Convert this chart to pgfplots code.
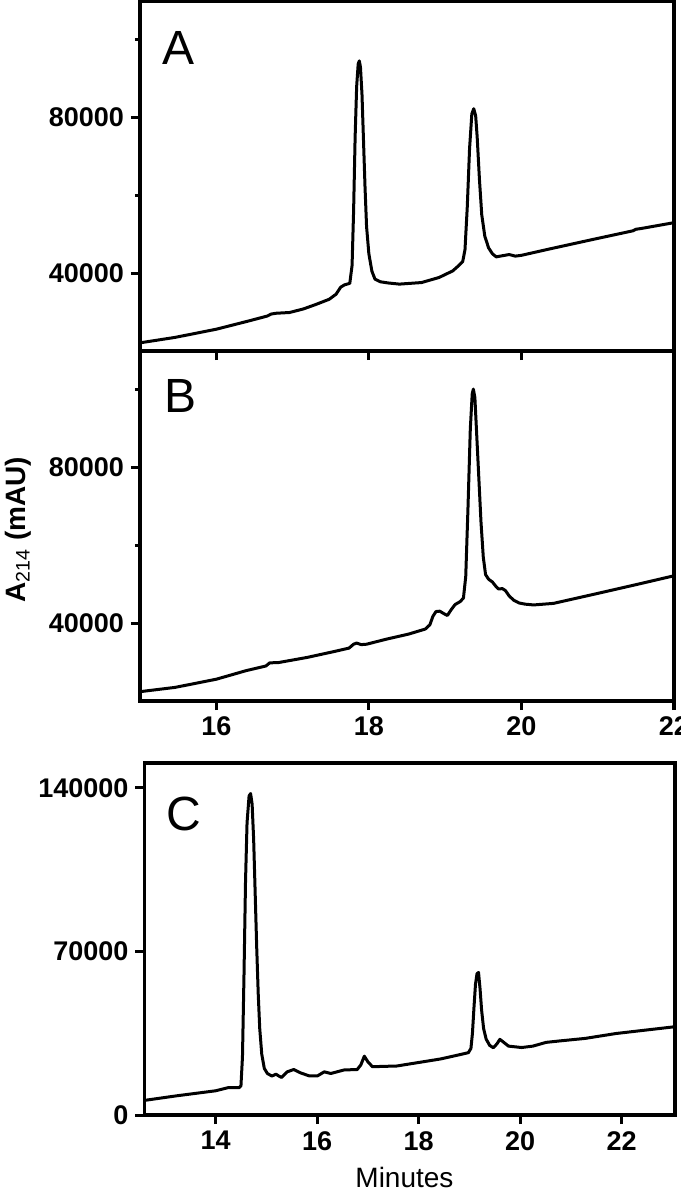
\documentclass[border=0pt]{standalone}
\usepackage{pgfplots}
\pgfplotsset{compat=1.18}
\usepackage{fontspec}
\setmainfont{Liberation Sans}

\pgfplotsset{
  chrom/.style={
    scale only axis, width=267pt, height=175pt,
    xmin=15, xmax=22, ymin=20000, ymax=110000,
    axis line style={line width=1.9pt},
    every tick/.style={black, line width=1.6pt},
    major tick length=4.5pt, minor tick length=2.5pt,
    tick align=outside, tick pos=left,
    xtick={16,18,20,22},
    ytick={40000,80000}, minor ytick={60000,100000},
    yticklabels={40000,80000},
    scaled ticks=false,
    tick label style={font=\fontsize{13.5}{14}\selectfont\bfseries},
    /pgf/number format/assume math mode=true,
    /pgf/number format/1000 sep={},
  },
}
\tikzset{
  trace/.style={black, line width=1.5pt, line join=round},
  panel/.style={anchor=north west, inner sep=0pt, font=\fontsize{24}{24}\selectfont},
}

\begin{document}
\begin{tikzpicture}
% panel A
\begin{axis}[chrom, at={(0pt,0pt)}, anchor=south west, xticklabels={}]
\addplot[trace, no marks] coordinates {
(15.00,22100) (15.46,23500) (16.00,25600) (16.44,27800) (16.67,29000) (16.72,29500)
(16.78,29700) (16.96,29900) (17.14,30800) (17.31,32000) (17.48,33300) (17.57,34600)
(17.63,36400) (17.68,37000) (17.75,37400) (17.78,42000) (17.80,56000) (17.82,75000)
(17.84,88000) (17.86,93800) (17.875,94600) (17.89,93000) (17.91,86000) (17.93,74000)
(17.95,62000) (17.97,52000) (18.00,45000) (18.04,40500) (18.08,38500) (18.15,37800)
(18.25,37500) (18.40,37200) (18.69,37600) (18.92,38900) (19.10,40600) (19.18,42000)
(19.23,43000) (19.26,46000) (19.29,57000) (19.32,72000) (19.35,81000) (19.375,82300)
(19.40,80500) (19.42,75000) (19.45,64000) (19.48,55000) (19.52,49500) (19.57,46500)
(19.62,45000) (19.67,44200) (19.75,44500) (19.84,44800) (19.92,44400) (20.00,44600)
(20.36,46200) (20.94,48700) (21.46,50900) (21.50,51300) (21.57,51500) (22.00,53000)
};
\node[panel, xshift=11pt, yshift=-15pt] at (rel axis cs:0,1) {A};
\end{axis}
% panel B
\begin{axis}[chrom, at={(0pt,0pt)}, anchor=north west,
  ylabel={A\textsubscript{\mdseries 214} (mAU)},
  ylabel style={font=\fontsize{14}{14}\selectfont\bfseries,
    at={(axis description cs:-0.2285,0.489)}, anchor=center}]
\addplot[trace, no marks] coordinates {
(15.00,22400) (15.46,23500) (16.00,25600) (16.39,27800) (16.65,29000) (16.70,29800)
(16.82,29900) (17.19,31200) (17.54,32700) (17.74,33600) (17.80,34600) (17.84,34900)
(17.90,34500) (17.97,34600) (18.23,35900) (18.52,37200) (18.74,38500) (18.80,39600)
(18.84,41800) (18.88,43000) (18.93,43100) (18.98,42500) (19.03,42000) (19.08,43500)
(19.13,44800) (19.20,45600) (19.24,46500) (19.27,52000) (19.30,70000) (19.33,90000)
(19.355,99000) (19.37,100200) (19.39,98000) (19.41,90000) (19.44,78000) (19.47,66000)
(19.50,57000) (19.53,52500) (19.57,51300) (19.62,50600) (19.66,49600) (19.70,48800)
(19.75,48900) (19.79,48400) (19.84,47000) (19.90,45900) (19.97,45200) (20.05,44900)
(20.16,44700) (20.42,45100) (20.94,47400) (21.52,50000) (22.00,52200)
};
\node[panel, xshift=12pt, yshift=-14pt] at (rel axis cs:0,1) {B};
\end{axis}
% panel C
\begin{axis}[chrom, at={(2.25pt,-205.85pt)}, anchor=north west,
  width=265.25pt, height=176.2pt,
  xmin=12.6, xmax=23.05, ymin=0, ymax=150700,
  xtick={14,16,18,20,22},
  ytick={0,70000,140000}, minor ytick={}, yticklabels={0,70000,140000},
  xlabel={Minutes},
  xlabel style={font=\fontsize{14}{14}\selectfont,
    at={(axis description cs:0.49,-0.178)}, anchor=center}]
\addplot[trace, no marks] coordinates {
(12.60,6300) (13.25,8300) (14.00,10400) (14.24,11700) (14.46,11700) (14.50,12500)
(14.53,25000) (14.56,60000) (14.59,100000) (14.62,125000) (14.66,136500) (14.69,137500)
(14.72,133000) (14.75,118000) (14.78,95000) (14.81,72000) (14.84,52000) (14.87,37000)
(14.91,26000) (14.96,20000) (15.02,17800) (15.11,16700) (15.19,17500) (15.24,16800)
(15.30,16100) (15.41,18500) (15.54,19500) (15.67,18100) (15.84,16800) (16.01,16800)
(16.14,18500) (16.27,17800) (16.53,19300) (16.79,19500) (16.86,21400) (16.93,25200)
(17.00,22800) (17.09,20700) (17.57,21000) (18.00,22500) (18.43,24000) (18.78,25700)
(18.98,26700) (19.03,28500) (19.06,35000) (19.09,46000) (19.12,56000) (19.15,60500)
(19.18,61000) (19.21,54000) (19.24,45000) (19.28,37000) (19.33,32500) (19.40,29800)
(19.47,28800) (19.54,30400) (19.60,32400) (19.66,31400) (19.77,29500) (20.03,28900)
(20.25,29500) (20.51,31100) (20.77,31700) (21.28,32800) (21.89,34900) (23.05,37800)
};
\node[panel, xshift=11pt, yshift=-17pt] at (rel axis cs:0,1) {C};
\end{axis}
\pgfresetboundingbox
\path[use as bounding box] (-70pt,175.5pt) rectangle (270pt,-421pt);
\end{tikzpicture}
\end{document}
